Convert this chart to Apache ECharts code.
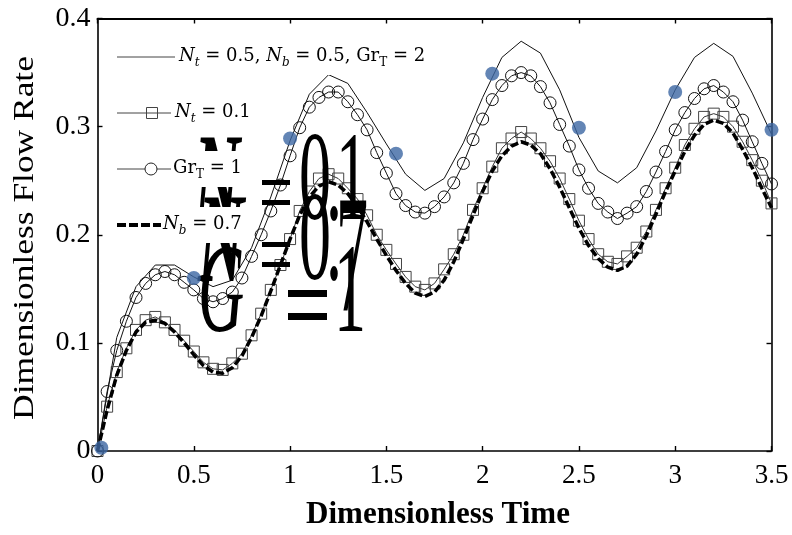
<!DOCTYPE html>
<html>
<head>
<meta charset="utf-8">
<script src="https://cdn.jsdelivr.net/npm/echarts@6/dist/echarts.min.js"></script>
<style>
  html, body { margin: 0; padding: 0; background: #fff; }
  #chart { width: 792px; height: 535px; }
</style>
</head>
<body>
<div id="chart"></div>
<script>
// Time samples for the marker curves (step 0.05) and the reference curve (step 0.1)
const timeFine = [0, 0.05, 0.1, 0.15, 0.2, 0.25, 0.3, 0.35, 0.4, 0.45, 0.5, 0.55, 0.6, 0.65, 0.7, 0.75,
  0.8, 0.85, 0.9, 0.95, 1.0, 1.05, 1.1, 1.15, 1.2, 1.25, 1.3, 1.35, 1.4, 1.45, 1.5, 1.55, 1.6, 1.65,
  1.7, 1.75, 1.8, 1.85, 1.9, 1.95, 2.0, 2.05, 2.1, 2.15, 2.2, 2.25, 2.3, 2.35, 2.4, 2.45, 2.5, 2.55,
  2.6, 2.65, 2.7, 2.75, 2.8, 2.85, 2.9, 2.95, 3.0, 3.05, 3.1, 3.15, 3.2, 3.25, 3.3, 3.35, 3.4, 3.45, 3.5];
const timeCoarse = [0, 0.1, 0.2, 0.3, 0.4, 0.5, 0.6, 0.7, 0.8, 0.9, 1.0, 1.1, 1.2, 1.3, 1.4, 1.5, 1.6,
  1.7, 1.8, 1.9, 2.0, 2.1, 2.2, 2.3, 2.4, 2.5, 2.6, 2.7, 2.8, 2.9, 3.0, 3.1, 3.2, 3.3, 3.4, 3.5];

// Nt = 0.5, Nb = 0.5, GrT = 2 (plain line)
const flowBase = [0, 0.105, 0.152, 0.172, 0.172, 0.161, 0.152, 0.158, 0.188, 0.235, 0.287, 0.33, 0.348,
  0.34, 0.313, 0.284, 0.256, 0.241, 0.252, 0.285, 0.327, 0.364, 0.379, 0.368, 0.334, 0.29, 0.259,
  0.248, 0.262, 0.296, 0.334, 0.364, 0.377, 0.365, 0.331, 0.293];

// Nt = 0.1 (squares)
const flowNt = [0, 0.041, 0.073, 0.095, 0.112, 0.121, 0.124, 0.119, 0.112, 0.102, 0.092, 0.082, 0.076,
  0.075, 0.081, 0.09, 0.107, 0.127, 0.149, 0.172, 0.196, 0.222, 0.24, 0.252, 0.256, 0.252, 0.243,
  0.233, 0.218, 0.2, 0.186, 0.173, 0.161, 0.152, 0.149, 0.155, 0.168, 0.182, 0.2, 0.223, 0.243, 0.263,
  0.28, 0.289, 0.295, 0.289, 0.28, 0.268, 0.252, 0.233, 0.213, 0.196, 0.182, 0.175, 0.173, 0.18, 0.188,
  0.203, 0.223, 0.243, 0.262, 0.283, 0.298, 0.309, 0.312, 0.309, 0.3, 0.286, 0.269, 0.25, 0.229];

// GrT = 1 (circles)
const flowGr = [0, 0.055, 0.093, 0.12, 0.142, 0.155, 0.163, 0.166, 0.163, 0.156, 0.149, 0.141, 0.138,
  0.141, 0.147, 0.16, 0.18, 0.2, 0.222, 0.246, 0.273, 0.299, 0.318, 0.327, 0.332, 0.332, 0.323, 0.311,
  0.297, 0.276, 0.257, 0.238, 0.227, 0.221, 0.22, 0.226, 0.235, 0.248, 0.266, 0.288, 0.307, 0.325,
  0.338, 0.347, 0.35, 0.347, 0.337, 0.322, 0.302, 0.282, 0.26, 0.243, 0.229, 0.221, 0.215, 0.22, 0.226,
  0.24, 0.258, 0.277, 0.297, 0.313, 0.326, 0.335, 0.338, 0.332, 0.323, 0.306, 0.286, 0.266, 0.247];

// Nb = 0.7 (thick dashed)
const flowNb = [0, 0.038, 0.07, 0.093, 0.11, 0.119, 0.121, 0.118, 0.11, 0.1, 0.089, 0.079, 0.073,
  0.072, 0.077, 0.088, 0.105, 0.125, 0.148, 0.172, 0.196, 0.218, 0.235, 0.245, 0.249, 0.246, 0.238,
  0.226, 0.212, 0.196, 0.181, 0.167, 0.155, 0.146, 0.143, 0.147, 0.158, 0.175, 0.196, 0.218, 0.24,
  0.259, 0.273, 0.282, 0.286, 0.283, 0.275, 0.261, 0.244, 0.225, 0.206, 0.19, 0.178, 0.17, 0.167,
  0.171, 0.182, 0.199, 0.219, 0.24, 0.259, 0.277, 0.292, 0.302, 0.306, 0.303, 0.294, 0.279, 0.262,
  0.243, 0.225];

// Sample points (filled dots)
const dotTime = [0.02, 0.5, 1.0, 1.55, 2.05, 2.5, 3.0, 3.5];
const dotFlow = [0.003, 0.16, 0.289, 0.275, 0.349, 0.299, 0.332, 0.297];

const xTicks = { min: 0, max: 3.5, interval: 0.5 };
const yTicks = { min: 0, max: 0.4, interval: 0.1 };

const zip = (xs, ys) => xs.map((x, i) => [x, ys[i]]);

const SERIF = "'Liberation Serif', 'Times New Roman', serif";
const MATH = "'DejaVu Serif', 'Liberation Serif', serif";

const chart = echarts.init(document.getElementById('chart'), null, { renderer: 'canvas' });

const axisCommon = {
  type: 'value',
  splitLine: { show: false },
  axisLine: { show: true, onZero: false, lineStyle: { color: '#000', width: 1.6 } },
  axisTick: { show: true, inside: true, length: 5, lineStyle: { color: '#000', width: 1.4 } },
  axisLabel: { color: '#000', fontFamily: SERIF, fontSize: 27 }
};

// Legend text (math style)
const mathRich = {
  it: { fontFamily: MATH, fontStyle: 'italic', fontSize: 18, color: '#000', lineHeight: 26 },
  rm: { fontFamily: MATH, fontSize: 18, color: '#000', lineHeight: 26 },
  sub: { fontFamily: MATH, fontStyle: 'italic', fontSize: 12, color: '#000', lineHeight: 12, verticalAlign: 'bottom' },
  subrm: { fontFamily: MATH, fontSize: 12, color: '#000', lineHeight: 12, verticalAlign: 'bottom' }
};

function legendText(x, y, text) {
  return {
    type: 'text', x: x, y: y, z: 20,
    style: {
      text: text, rich: mathRich, align: 'left', verticalAlign: 'middle',
      backgroundColor: '#fff', padding: [4, 2, 6, 2]
    }
  };
}

// Large stacked equation glyphs behind the legend
function glyph(ch, cx, cy, opts) {
  opts = opts || {};
  return {
    type: 'text', x: cx, y: cy, z: 5,
    scaleX: opts.sx || 0.5, scaleY: opts.sy || 1,
    style: {
      text: ch, x: 0, y: 0, align: 'center', verticalAlign: 'middle',
      fontFamily: SERIF, fontSize: opts.size || 128,
      fontStyle: opts.italic ? 'italic' : 'normal',
      fontWeight: opts.bold ? 'bold' : 'normal',
      fill: '#000'
    }
  };
}
function bar(x1, x2, y1, y2) {
  return { type: 'rect', z: 5, shape: { x: x1, y: y1, width: x2 - x1, height: y2 - y1 }, style: { fill: '#000' } };
}

const graphics = [
  // equation glyphs
  glyph('N', 217, 188, { italic: true, bold: true }),
  glyph('N', 221, 248, { italic: true, bold: true }),
  glyph('G', 221, 297, { italic: true }),
  bar(262, 290, 180, 185), bar(262, 290, 200, 205),
  bar(262, 290, 242, 247), bar(262, 290, 262, 267),
  bar(288, 327, 290, 297), bar(288, 327, 313, 320),
  glyph('0', 315, 185), glyph('0', 315, 245),
  glyph('.', 334, 185), glyph('.', 334, 245),
  glyph('1', 352, 185), glyph('7', 352, 266, { sy: 1.3 }),
  glyph('1', 350, 297),

  // legend: row 1
  { type: 'line', z: 20, shape: { x1: 117, y1: 57, x2: 175, y2: 57 }, style: { stroke: '#444', lineWidth: 1 } },
  legendText(177, 57, '{it|N}{sub|t}{rm| = 0.5, }{it|N}{sub|b}{rm| = 0.5, Gr}{subrm|T}{rm| = 2}'),
  // row 2
  { type: 'line', z: 20, shape: { x1: 117, y1: 113, x2: 171, y2: 113 }, style: { stroke: '#444', lineWidth: 1 } },
  { type: 'rect', z: 21, shape: { x: 146.5, y: 107.5, width: 11, height: 11 }, style: { fill: 'none', stroke: '#444', lineWidth: 1 } },
  legendText(173, 113, '{it|N}{sub|t}{rm| = 0.1}'),
  // row 3
  { type: 'line', z: 20, shape: { x1: 117, y1: 169, x2: 171, y2: 169 }, style: { stroke: '#444', lineWidth: 1 } },
  { type: 'circle', z: 21, shape: { cx: 151, cy: 169, r: 6 }, style: { fill: '#fff', stroke: '#222', lineWidth: 1 } },
  legendText(171, 169, '{rm|Gr}{subrm|T}{rm| = 1}'),
  // row 4
  { type: 'line', z: 20, shape: { x1: 117, y1: 225, x2: 162, y2: 225 }, style: { stroke: '#000', lineWidth: 4, lineDash: [9, 3] } },
  legendText(161, 225, '{it|N}{sub|b}{rm| = 0.7}'),

  // axis titles
  {
    type: 'text', x: 25, y: 238, rotation: Math.PI / 2, scaleX: 1.18, z: 10,
    style: { text: 'Dimensionless Flow Rate', align: 'center', verticalAlign: 'middle',
      fontFamily: SERIF, fontSize: 30, fill: '#000' }
  },
  {
    type: 'text', x: 438, y: 515, z: 10,
    style: { text: 'Dimensionless Time', align: 'center', verticalAlign: 'middle',
      fontFamily: SERIF, fontSize: 31, fontWeight: 'bold', fill: '#000' }
  }
];

const option = {
  backgroundColor: '#fff',
  animation: false,
  grid: { left: 97.5, right: 20.5, top: 18.5, bottom: 84, containLabel: false },
  xAxis: [
    Object.assign({}, axisCommon, xTicks, {
      position: 'bottom',
      axisLabel: Object.assign({}, axisCommon.axisLabel, { margin: 11 })
    }),
    Object.assign({}, axisCommon, xTicks, {
      position: 'top',
      axisLine: { show: true, onZero: false, lineStyle: { color: '#000', width: 2 } },
      axisLabel: { show: false }
    })
  ],
  yAxis: [
    Object.assign({}, axisCommon, yTicks, {
      position: 'left',
      axisLabel: Object.assign({}, axisCommon.axisLabel, { margin: 7, fontSize: 28 })
    }),
    Object.assign({}, axisCommon, yTicks, {
      position: 'right',
      axisLabel: { show: false }
    })
  ],
  graphic: graphics,
  series: [
    {
      name: 'base', type: 'line', data: zip(timeCoarse, flowBase), showSymbol: false, symbol: 'none',
      lineStyle: { color: '#111', width: 1 }, z: 3
    },
    {
      name: 'Nt', type: 'line', data: zip(timeFine, flowNt), symbol: 'rect', symbolSize: 11,
      itemStyle: { color: 'rgba(0,0,0,0)', borderColor: '#444', borderWidth: 1 },
      lineStyle: { color: '#333', width: 1 }, z: 3
    },
    {
      name: 'Gr', type: 'line', data: zip(timeFine, flowGr), symbol: 'circle', symbolSize: 12,
      itemStyle: { color: 'rgba(0,0,0,0)', borderColor: '#111', borderWidth: 1 },
      lineStyle: { color: '#111', width: 1 }, z: 3
    },
    {
      name: 'Nb', type: 'line', data: zip(timeFine, flowNb), symbol: 'none',
      lineStyle: { color: '#000', width: 3.5, type: [8, 3] }, z: 4
    },
    {
      name: 'samples', type: 'scatter', data: zip(dotTime, dotFlow), symbol: 'circle', symbolSize: 14,
      itemStyle: { color: '#3c67a3' }, z: 6
    }
  ]
};

chart.setOption(option);
</script>
</body>
</html>
